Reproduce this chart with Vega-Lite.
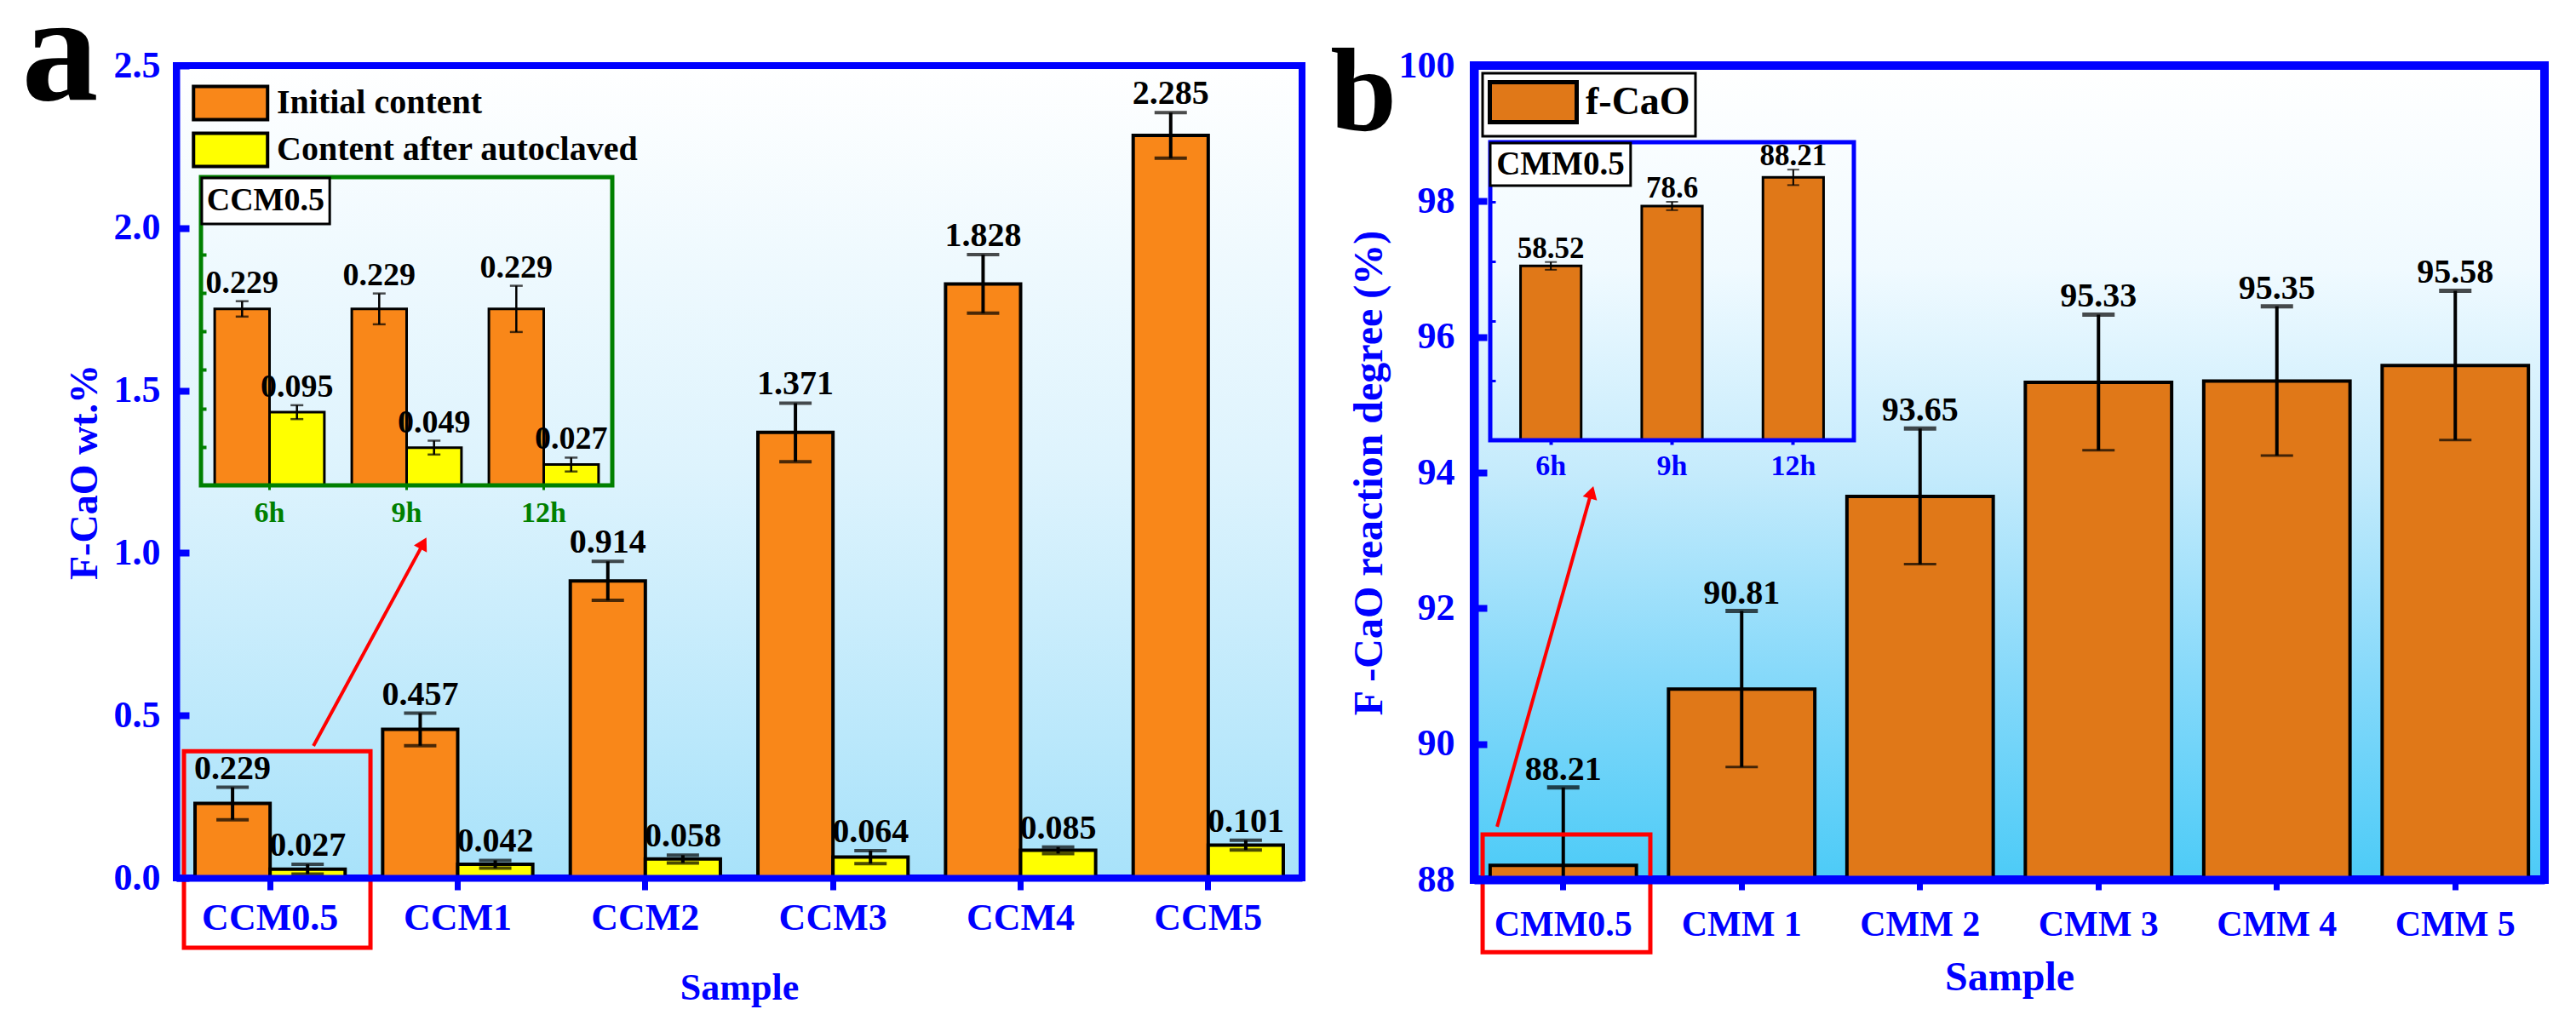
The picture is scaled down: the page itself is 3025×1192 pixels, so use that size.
{
  "$schema": "https://vega.github.io/schema/vega-lite/v6.json",
  "background": "white",
  "padding": {"left": 21, "top": -31, "right": 5, "bottom": 5},
  "spacing": 24,
  "config": {
    "font": "Liberation Serif",
    "axis": {"labelFont": "Liberation Serif", "titleFont": "Liberation Serif", "labelFontWeight": "bold", "titleFontWeight": "bold", "grid": false},
    "legend": {"labelFont": "Liberation Serif", "labelFontWeight": "bold", "strokeWidth": 3}
  },
  "resolve": {"scale": {"color": "independent"}, "legend": {"color": "independent"}},
  "hconcat": [
    {
      "width": 1322,
      "height": 954,
      "view": {
        "fill": {"gradient": "linear", "x1": 0, "y1": 0, "x2": 0, "y2": 1, "stops": [{"offset": 0, "color": "#FFFFFF"}, {"offset": 0.5, "color": "#DDF3FD"}, {"offset": 1, "color": "#A8E2FA"}]},
        "stroke": "#0000FF",
        "strokeWidth": 8
      },
      "layer": [
        {
          "data": {"values": [
            {"sample": "CCM0.5", "series": "Initial content", "value": 0.229, "lo": 0.179, "hi": 0.279, "label": "0.229"},
            {"sample": "CCM1", "series": "Initial content", "value": 0.457, "lo": 0.407, "hi": 0.507, "label": "0.457"},
            {"sample": "CCM2", "series": "Initial content", "value": 0.914, "lo": 0.854, "hi": 0.974, "label": "0.914"},
            {"sample": "CCM3", "series": "Initial content", "value": 1.371, "lo": 1.281, "hi": 1.461, "label": "1.371"},
            {"sample": "CCM4", "series": "Initial content", "value": 1.828, "lo": 1.738, "hi": 1.918, "label": "1.828"},
            {"sample": "CCM5", "series": "Initial content", "value": 2.285, "lo": 2.215, "hi": 2.355, "label": "2.285"},
            {"sample": "CCM0.5", "series": "Content after autoclaved", "value": 0.027, "lo": 0.012, "hi": 0.042, "label": "0.027"},
            {"sample": "CCM1", "series": "Content after autoclaved", "value": 0.042, "lo": 0.030, "hi": 0.054, "label": "0.042"},
            {"sample": "CCM2", "series": "Content after autoclaved", "value": 0.058, "lo": 0.046, "hi": 0.070, "label": "0.058"},
            {"sample": "CCM3", "series": "Content after autoclaved", "value": 0.064, "lo": 0.044, "hi": 0.084, "label": "0.064"},
            {"sample": "CCM4", "series": "Content after autoclaved", "value": 0.085, "lo": 0.075, "hi": 0.095, "label": "0.085"},
            {"sample": "CCM5", "series": "Content after autoclaved", "value": 0.101, "lo": 0.086, "hi": 0.116, "label": "0.101"}
          ]},
          "encoding": {
            "x": {"field": "sample", "type": "nominal", "sort": null,
              "scale": {"paddingInner": 0.2, "paddingOuter": 0.1},
              "axis": {"title": "Sample", "titleColor": "#0000FF", "titleFontSize": 44, "titlePadding": 38,
                "labelColor": "#0000FF", "labelFontSize": 44, "labelAngle": 0, "labelPadding": 11,
                "tickColor": "#0000FF", "tickSize": 14, "tickWidth": 7,
                "domainColor": "#0000FF", "domainWidth": 8, "zindex": 1}},
            "xOffset": {"field": "series", "type": "nominal", "sort": ["Initial content", "Content after autoclaved"], "scale": {"paddingInner": 0, "paddingOuter": 0}}
          },
          "layer": [
            {
              "mark": {"type": "bar", "stroke": "black", "strokeWidth": 4},
              "encoding": {
                "y": {"field": "value", "type": "quantitative",
                  "scale": {"domain": [0, 2.5], "nice": false},
                  "axis": {"title": "F-CaO wt.%", "titleColor": "#0000FF", "titleFontSize": 46, "titlePadding": 10,
                    "values": [0, 0.5, 1, 1.5, 2, 2.5], "format": ".1f",
                    "labelColor": "#0000FF", "labelFontSize": 44, "labelPadding": 34,
                    "tickColor": "#0000FF", "tickSize": -15, "tickWidth": 8,
                    "domainColor": "#0000FF", "domainWidth": 8, "zindex": 1}},
                "color": {"field": "series", "type": "nominal",
                  "scale": {"domain": ["Initial content", "Content after autoclaved"], "range": ["#F98719", "#FFFF00"]},
                  "legend": {"orient": "none", "legendX": 18, "legendY": 20, "title": null, "direction": "vertical",
                    "symbolType": "M-1,-0.896H3V0.896H-1Z", "symbolSize": 1892,
                    "symbolStrokeColor": "black", "symbolStrokeWidth": 4, "symbolOpacity": 1,
                    "labelFontSize": 40, "labelColor": "black", "labelOffset": 52, "labelLimit": 800, "rowPadding": -1}}
              }
            },
            {
              "mark": {"type": "rule", "color": "black", "strokeWidth": 4},
              "encoding": {"y": {"field": "lo", "type": "quantitative"}, "y2": {"field": "hi"}}
            },
            {
              "mark": {"type": "tick", "color": "black", "size": 38, "thickness": 4},
              "encoding": {"y": {"field": "lo", "type": "quantitative"}}
            },
            {
              "mark": {"type": "tick", "color": "black", "size": 38, "thickness": 4},
              "encoding": {"y": {"field": "hi", "type": "quantitative"}}
            },
            {
              "mark": {"type": "text", "dy": -10, "baseline": "alphabetic", "fontSize": 40, "fontWeight": "bold", "color": "black"},
              "encoding": {"y": {"field": "hi", "type": "quantitative"}, "text": {"field": "label"}}
            }
          ]
        },
        {
          "data": {"values": [
            {"time": "6h", "series": "Initial content", "value": 0.229, "lo": 0.219, "hi": 0.239, "label": "0.229"},
            {"time": "9h", "series": "Initial content", "value": 0.229, "lo": 0.209, "hi": 0.249, "label": "0.229"},
            {"time": "12h", "series": "Initial content", "value": 0.229, "lo": 0.199, "hi": 0.259, "label": "0.229"},
            {"time": "6h", "series": "Content after autoclaved", "value": 0.095, "lo": 0.086, "hi": 0.104, "label": "0.095"},
            {"time": "9h", "series": "Content after autoclaved", "value": 0.049, "lo": 0.040, "hi": 0.058, "label": "0.049"},
            {"time": "12h", "series": "Content after autoclaved", "value": 0.027, "lo": 0.018, "hi": 0.036, "label": "0.027"}
          ]},
          "encoding": {
            "x": {"field": "time", "type": "nominal", "sort": ["6h", "9h", "12h"],
              "scale": {"range": [29, 512], "paddingInner": 0.2, "paddingOuter": 0.1},
              "axis": {"orient": "bottom", "offset": -461, "title": null, "domain": false,
                "labelColor": "#008000", "labelFontSize": 34, "labelAngle": 0, "labelPadding": 10,
                "tickColor": "#008000", "tickSize": 5, "tickWidth": 3}},
            "xOffset": {"field": "series", "type": "nominal", "sort": ["Initial content", "Content after autoclaved"], "scale": {"paddingInner": 0, "paddingOuter": 0}}
          },
          "layer": [
            {
              "mark": {"type": "bar", "stroke": "black", "strokeWidth": 3},
              "encoding": {
                "y": {"field": "value", "type": "quantitative",
                  "scale": {"domain": [0, 0.4], "range": [493, 131], "nice": false},
                  "axis": {"orient": "left", "offset": -29, "title": null, "labels": false, "domain": false,
                    "values": [0.05, 0.1, 0.15, 0.2, 0.25, 0.3, 0.35],
                    "tickColor": "#008000", "tickSize": -6, "tickWidth": 4}},
                "color": {"field": "series", "type": "nominal"}
              }
            },
            {
              "mark": {"type": "rule", "color": "black", "strokeWidth": 2.5},
              "encoding": {"y": {"field": "lo", "type": "quantitative"}, "y2": {"field": "hi"}}
            },
            {
              "mark": {"type": "tick", "color": "black", "size": 15, "thickness": 2.5},
              "encoding": {"y": {"field": "lo", "type": "quantitative"}}
            },
            {
              "mark": {"type": "tick", "color": "black", "size": 15, "thickness": 2.5},
              "encoding": {"y": {"field": "hi", "type": "quantitative"}}
            },
            {
              "mark": {"type": "text", "dy": -10, "baseline": "alphabetic", "fontSize": 38, "fontWeight": "bold", "color": "black"},
              "encoding": {"y": {"field": "hi", "type": "quantitative"}, "text": {"field": "label"}}
            }
          ]
        },
        {
          "layer": [
            {
              "data": {"values": [{"x0": 0, "x1": 1, "y0": 0, "y1": 1}]},
              "mark": {"type": "rect", "filled": false, "color": "#008000", "strokeWidth": 5},
              "encoding": {
                "x": {"field": "x0", "type": "quantitative", "scale": {"domain": [0, 1], "range": [29, 512], "nice": false, "zero": false}, "axis": null},
                "x2": {"field": "x1"},
                "y": {"field": "y0", "type": "quantitative", "scale": {"domain": [0, 1], "range": [493, 131], "nice": false, "zero": false}, "axis": null},
                "y2": {"field": "y1"}
              }
            },
            {
              "data": {"values": [{"x0": 0.002, "x1": 0.313, "y0": 0.848, "y1": 0.997}]},
              "mark": {"type": "rect", "fill": "white", "stroke": "black", "strokeWidth": 3},
              "encoding": {
                "x": {"field": "x0", "type": "quantitative"},
                "x2": {"field": "x1"},
                "y": {"field": "y0", "type": "quantitative"},
                "y2": {"field": "y1"}
              }
            },
            {
              "data": {"values": [{"tx": 0.157, "ty": 0.922, "t": "CCM0.5"}]},
              "mark": {"type": "text", "fontSize": 38, "fontWeight": "bold", "color": "black", "align": "center", "baseline": "middle"},
              "encoding": {
                "x": {"field": "tx", "type": "quantitative"},
                "y": {"field": "ty", "type": "quantitative"},
                "text": {"field": "t"}
              }
            }
          ]
        },
        {
          "layer": [
            {
              "data": {"values": [{"ax": 0.731, "ay": 0.406}, {"ax": 1.309, "ay": 1.021}]},
              "mark": {"type": "line", "color": "#FF0000", "strokeWidth": 4},
              "encoding": {
                "x": {"field": "ax", "type": "quantitative", "scale": {"domain": [0, 6], "nice": false, "zero": false}, "axis": null},
                "y": {"field": "ay", "type": "quantitative", "scale": {"domain": [0, 2.5], "nice": false, "zero": false}, "axis": null}
              }
            },
            {
              "data": {"values": [{"ax": 1.317, "ay": 1.030}]},
              "mark": {"type": "point", "shape": "triangle-up", "filled": true, "color": "#FF0000", "size": 300, "angle": 28.5, "opacity": 1},
              "encoding": {
                "x": {"field": "ax", "type": "quantitative"},
                "y": {"field": "ay", "type": "quantitative"}
              }
            },
            {
              "data": {"values": [{"x0": 0.041, "x1": 1.035, "y0": -0.215, "y1": 0.39}]},
              "mark": {"type": "rect", "filled": false, "color": "#FF0000", "strokeWidth": 5},
              "encoding": {
                "x": {"field": "x0", "type": "quantitative"},
                "x2": {"field": "x1"},
                "y": {"field": "y0", "type": "quantitative"},
                "y2": {"field": "y1"}
              }
            },
            {
              "data": {"values": [{"ax": -0.62, "ay": 2.395, "t": "a"}]},
              "mark": {"type": "text", "fontSize": 180, "fontWeight": "bold", "color": "black", "align": "center", "baseline": "alphabetic"},
              "encoding": {
                "x": {"field": "ax", "type": "quantitative"},
                "y": {"field": "ay", "type": "quantitative"},
                "text": {"field": "t"}
              }
            }
          ]
        }
      ],
      "resolve": {"scale": {"x": "independent", "y": "independent", "xOffset": "independent"}, "axis": {"x": "independent", "y": "independent"}}
    },
    {
      "width": 1257,
      "height": 956,
      "view": {
        "fill": {"gradient": "linear", "x1": 0, "y1": 0, "x2": 0, "y2": 1, "stops": [{"offset": 0, "color": "#FFFFFF"}, {"offset": 0.25, "color": "#F0FAFF"}, {"offset": 0.5, "color": "#C5EBFC"}, {"offset": 0.75, "color": "#86D9FA"}, {"offset": 1, "color": "#4CCBF7"}]},
        "stroke": "#0000FF",
        "strokeWidth": 10
      },
      "layer": [
        {
          "data": {"values": [
            {"sample": "CMM0.5", "series": "f-CaO", "value": 88.21, "lo": 87.06, "hi": 89.36, "label": "88.21"},
            {"sample": "CMM 1", "series": "f-CaO", "value": 90.81, "lo": 89.66, "hi": 91.96, "label": "90.81"},
            {"sample": "CMM 2", "series": "f-CaO", "value": 93.65, "lo": 92.65, "hi": 94.65, "label": "93.65"},
            {"sample": "CMM 3", "series": "f-CaO", "value": 95.33, "lo": 94.33, "hi": 96.33, "label": "95.33"},
            {"sample": "CMM 4", "series": "f-CaO", "value": 95.35, "lo": 94.25, "hi": 96.45, "label": "95.35"},
            {"sample": "CMM 5", "series": "f-CaO", "value": 95.58, "lo": 94.48, "hi": 96.68, "label": "95.58"}
          ]},
          "encoding": {
            "x": {"field": "sample", "type": "nominal", "sort": null,
              "scale": {"paddingInner": 0.18, "paddingOuter": 0.09},
              "axis": {"title": "Sample", "titleColor": "#0000FF", "titleFontSize": 48, "titlePadding": 18,
                "labelColor": "#0000FF", "labelFontSize": 42, "labelAngle": 0, "labelPadding": 20,
                "tickColor": "#0000FF", "tickSize": 12, "tickWidth": 7,
                "domainColor": "#0000FF", "domainWidth": 10, "zindex": 1}}
          },
          "layer": [
            {
              "mark": {"type": "bar", "stroke": "black", "strokeWidth": 4},
              "encoding": {
                "y": {"field": "value", "type": "quantitative",
                  "scale": {"domain": [88, 100], "nice": false, "zero": false},
                  "axis": {"title": "F -CaO reaction degree (%)", "titleColor": "#0000FF", "titleFontSize": 48, "titlePadding": 10,
                    "values": [88, 90, 92, 94, 96, 98, 100], "format": "d",
                    "labelColor": "#0000FF", "labelFontSize": 44, "labelPadding": 38,
                    "tickColor": "#0000FF", "tickSize": -15, "tickWidth": 8,
                    "domainColor": "#0000FF", "domainWidth": 10, "zindex": 1}},
                "y2": {"datum": 88},
                "color": {"field": "series", "type": "nominal",
                  "scale": {"domain": ["f-CaO"], "range": ["#E07818"]},
                  "legend": {"orient": "none", "legendX": 10, "legendY": 9, "title": null,
                    "symbolType": "M-1,-0.92H3V0.92H-1Z", "symbolSize": 2601,
                    "symbolStrokeColor": "black", "symbolStrokeWidth": 5, "symbolOpacity": 1,
                    "labelFontSize": 46, "labelColor": "black", "labelOffset": 59,
                    "strokeColor": "black", "fillColor": "white", "padding": 6}}
              }
            },
            {
              "mark": {"type": "rule", "color": "black", "strokeWidth": 4, "clip": true},
              "encoding": {"y": {"field": "lo", "type": "quantitative"}, "y2": {"field": "hi"}}
            },
            {
              "mark": {"type": "tick", "color": "black", "size": 38, "thickness": 3, "clip": true},
              "encoding": {"y": {"field": "lo", "type": "quantitative"}}
            },
            {
              "mark": {"type": "tick", "color": "black", "size": 38, "thickness": 5},
              "encoding": {"y": {"field": "hi", "type": "quantitative"}}
            },
            {
              "mark": {"type": "text", "dy": -9, "baseline": "alphabetic", "fontSize": 40, "fontWeight": "bold", "color": "black"},
              "encoding": {"y": {"field": "hi", "type": "quantitative"}, "text": {"field": "label"}}
            }
          ]
        },
        {
          "data": {"values": [
            {"time": "6h", "series": "f-CaO", "value": 58.52, "lo": 57.2, "hi": 59.8, "label": "58.52"},
            {"time": "9h", "series": "f-CaO", "value": 78.6, "lo": 77.2, "hi": 80.0, "label": "78.6"},
            {"time": "12h", "series": "f-CaO", "value": 88.21, "lo": 85.6, "hi": 90.8, "label": "88.21"}
          ]},
          "encoding": {
            "x": {"field": "time", "type": "nominal", "sort": ["6h", "9h", "12h"],
              "scale": {"range": [19, 446], "paddingInner": 0.5, "paddingOuter": 0.25},
              "axis": {"orient": "bottom", "offset": -516, "title": null, "domain": false,
                "labelColor": "#0000FF", "labelFontSize": 34, "labelAngle": 0, "labelPadding": 8,
                "tickColor": "#0000FF", "tickSize": 5, "tickWidth": 4}}
          },
          "layer": [
            {
              "mark": {"type": "bar", "stroke": "black", "strokeWidth": 3},
              "encoding": {
                "y": {"field": "value", "type": "quantitative",
                  "scale": {"domain": [0, 100], "range": [440, 90], "nice": false},
                  "axis": {"orient": "left", "offset": -19, "title": null, "labels": false, "domain": false,
                    "values": [20, 40, 60, 80],
                    "tickColor": "#0000FF", "tickSize": -6, "tickWidth": 3}},
                "color": {"field": "series", "type": "nominal"}
              }
            },
            {
              "mark": {"type": "rule", "color": "black", "strokeWidth": 2},
              "encoding": {"y": {"field": "lo", "type": "quantitative"}, "y2": {"field": "hi"}}
            },
            {
              "mark": {"type": "tick", "color": "black", "size": 14, "thickness": 2},
              "encoding": {"y": {"field": "lo", "type": "quantitative"}}
            },
            {
              "mark": {"type": "tick", "color": "black", "size": 14, "thickness": 2},
              "encoding": {"y": {"field": "hi", "type": "quantitative"}}
            },
            {
              "mark": {"type": "text", "dy": -5, "baseline": "alphabetic", "fontSize": 35, "fontWeight": "bold", "color": "black"},
              "encoding": {"y": {"field": "hi", "type": "quantitative"}, "text": {"field": "label"}}
            }
          ]
        },
        {
          "layer": [
            {
              "data": {"values": [{"x0": 0, "x1": 1, "y0": 0, "y1": 1}]},
              "mark": {"type": "rect", "filled": false, "color": "#0000FF", "strokeWidth": 5},
              "encoding": {
                "x": {"field": "x0", "type": "quantitative", "scale": {"domain": [0, 1], "range": [19, 446], "nice": false, "zero": false}, "axis": null},
                "x2": {"field": "x1"},
                "y": {"field": "y0", "type": "quantitative", "scale": {"domain": [0, 1], "range": [440, 90], "nice": false, "zero": false}, "axis": null},
                "y2": {"field": "y1"}
              }
            },
            {
              "data": {"values": [{"x0": 0.0, "x1": 0.386, "y0": 0.854, "y1": 0.997}]},
              "mark": {"type": "rect", "fill": "white", "stroke": "black", "strokeWidth": 3},
              "encoding": {
                "x": {"field": "x0", "type": "quantitative"},
                "x2": {"field": "x1"},
                "y": {"field": "y0", "type": "quantitative"},
                "y2": {"field": "y1"}
              }
            },
            {
              "data": {"values": [{"tx": 0.193, "ty": 0.925, "t": "CMM0.5"}]},
              "mark": {"type": "text", "fontSize": 39, "fontWeight": "bold", "color": "black", "align": "center", "baseline": "middle"},
              "encoding": {
                "x": {"field": "tx", "type": "quantitative"},
                "y": {"field": "ty", "type": "quantitative"},
                "text": {"field": "t"}
              }
            }
          ]
        },
        {
          "layer": [
            {
              "data": {"values": [{"ax": 0.129, "ay": 88.78}, {"ax": 0.652, "ay": 93.66}]},
              "mark": {"type": "line", "color": "#FF0000", "strokeWidth": 4},
              "encoding": {
                "x": {"field": "ax", "type": "quantitative", "scale": {"domain": [0, 6], "nice": false, "zero": false}, "axis": null},
                "y": {"field": "ay", "type": "quantitative", "scale": {"domain": [88, 100], "nice": false, "zero": false}, "axis": null}
              }
            },
            {
              "data": {"values": [{"ax": 0.659, "ay": 93.71}]},
              "mark": {"type": "point", "shape": "triangle-up", "filled": true, "color": "#FF0000", "size": 300, "angle": 15.7, "opacity": 1},
              "encoding": {
                "x": {"field": "ax", "type": "quantitative"},
                "y": {"field": "ay", "type": "quantitative"}
              }
            },
            {
              "data": {"values": [{"x0": 0.048, "x1": 0.988, "y0": 86.93, "y1": 88.665}]},
              "mark": {"type": "rect", "filled": false, "color": "#FF0000", "strokeWidth": 5},
              "encoding": {
                "x": {"field": "x0", "type": "quantitative"},
                "x2": {"field": "x1"},
                "y": {"field": "y0", "type": "quantitative"},
                "y2": {"field": "y1"}
              }
            },
            {
              "data": {"values": [{"ax": -0.62, "ay": 99.05, "t": "b"}]},
              "mark": {"type": "text", "fontSize": 140, "fontWeight": "bold", "color": "black", "align": "center", "baseline": "alphabetic"},
              "encoding": {
                "x": {"field": "ax", "type": "quantitative"},
                "y": {"field": "ay", "type": "quantitative"},
                "text": {"field": "t"}
              }
            }
          ]
        }
      ],
      "resolve": {"scale": {"x": "independent", "y": "independent"}, "axis": {"x": "independent", "y": "independent"}}
    }
  ]
}
